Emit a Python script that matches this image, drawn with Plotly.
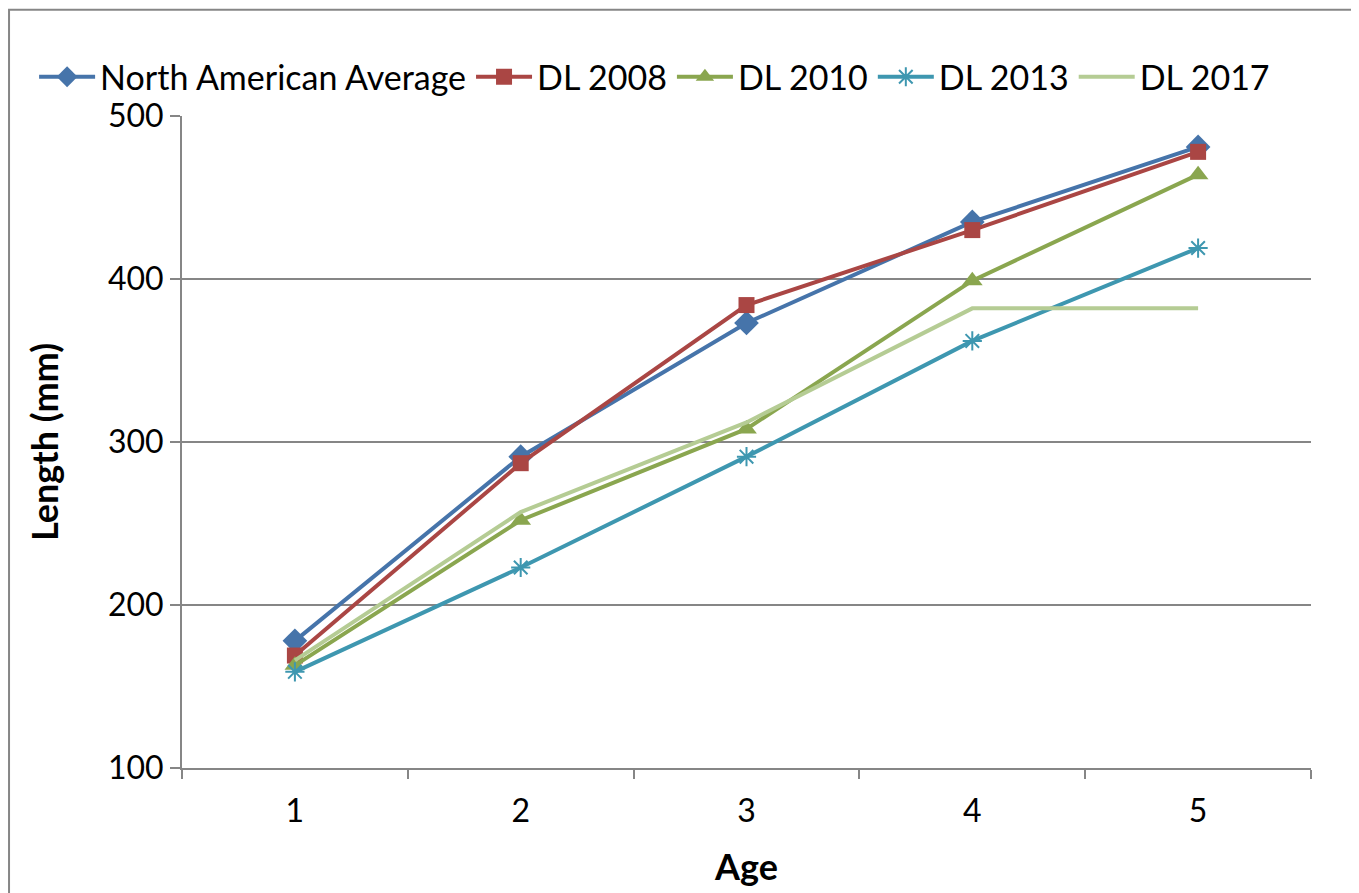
import plotly.graph_objects as go

ages = ["1", "2", "3", "4", "5"]
north_american = [178, 291, 373, 435, 481]
dl_2008 = [169, 287, 384, 430, 478]
dl_2010 = [163, 252, 308, 399, 464]
dl_2013 = [159, 223, 291, 362, 419]
dl_2017 = [166, 257, 312, 382, 382]

series_names = ["North American Average", "DL 2008", "DL 2010", "DL 2013", "DL 2017"]
series_values = [north_american, dl_2008, dl_2010, dl_2013, dl_2017]
colors = ["#4674AA", "#AA4644", "#8AA64F", "#3E97B0", "#B5CC94"]
symbols = ["diamond", "square", "triangle-up", "asterisk-open", None]
sizes = [19, 16, 18, 16, 0]

fig = go.Figure()
for name, vals, color, sym, size in zip(series_names, series_values, colors, symbols, sizes):
    if sym:
        fig.add_trace(go.Scatter(
            x=ages, y=vals, name=name, mode="lines+markers",
            line=dict(color=color, width=4),
            marker=dict(symbol=sym, size=size, color=color,
                        line=dict(color=color, width=2 if sym == "asterisk-open" else 0)),
        ))
    else:
        fig.add_trace(go.Scatter(
            x=ages, y=vals, name=name, mode="lines",
            line=dict(color=color, width=4),
        ))

font_family = "Lato, 'Open Sans', sans-serif"

fig.update_layout(
    width=1351, height=885,
    margin=dict(l=174, r=48, t=108, b=123),
    paper_bgcolor="white", plot_bgcolor="white",
    font=dict(family=font_family, size=32, color="black"),
    legend=dict(orientation="h", x=-0.131, xanchor="left",
                y=1.0596, yanchor="middle",
                font=dict(size=34, color="black"), itemwidth=56,
                bgcolor="rgba(0,0,0,0)", borderwidth=0, traceorder="normal"),
    xaxis=dict(type="category", showline=True, linecolor="#868686", linewidth=2,
               ticks="outside", tickson="boundaries", ticklen=9, tickcolor="#868686",
               tickwidth=2, showgrid=False, range=[-0.5, 4.5], ticklabelstandoff=14,
               title=dict(text="<b>Age</b>", font=dict(size=36), standoff=26)),
    yaxis=dict(range=[100, 500], dtick=100, showline=True, linecolor="#868686", linewidth=2,
               ticks="outside", ticklen=10, tickcolor="#868686", tickwidth=2,
               showgrid=True, gridcolor="#868686", gridwidth=1.5, zeroline=False,
               title=dict(text="<b>Length (mm)</b>", font=dict(size=36), standoff=38)),
    shapes=[dict(type="rect", xref="paper", yref="paper",
                 x0=-0.1532, x1=1.0381, y0=-0.35, y1=1.163,
                 line=dict(color="#868686", width=2), layer="below")],
)
fig.write_html("out.html")
